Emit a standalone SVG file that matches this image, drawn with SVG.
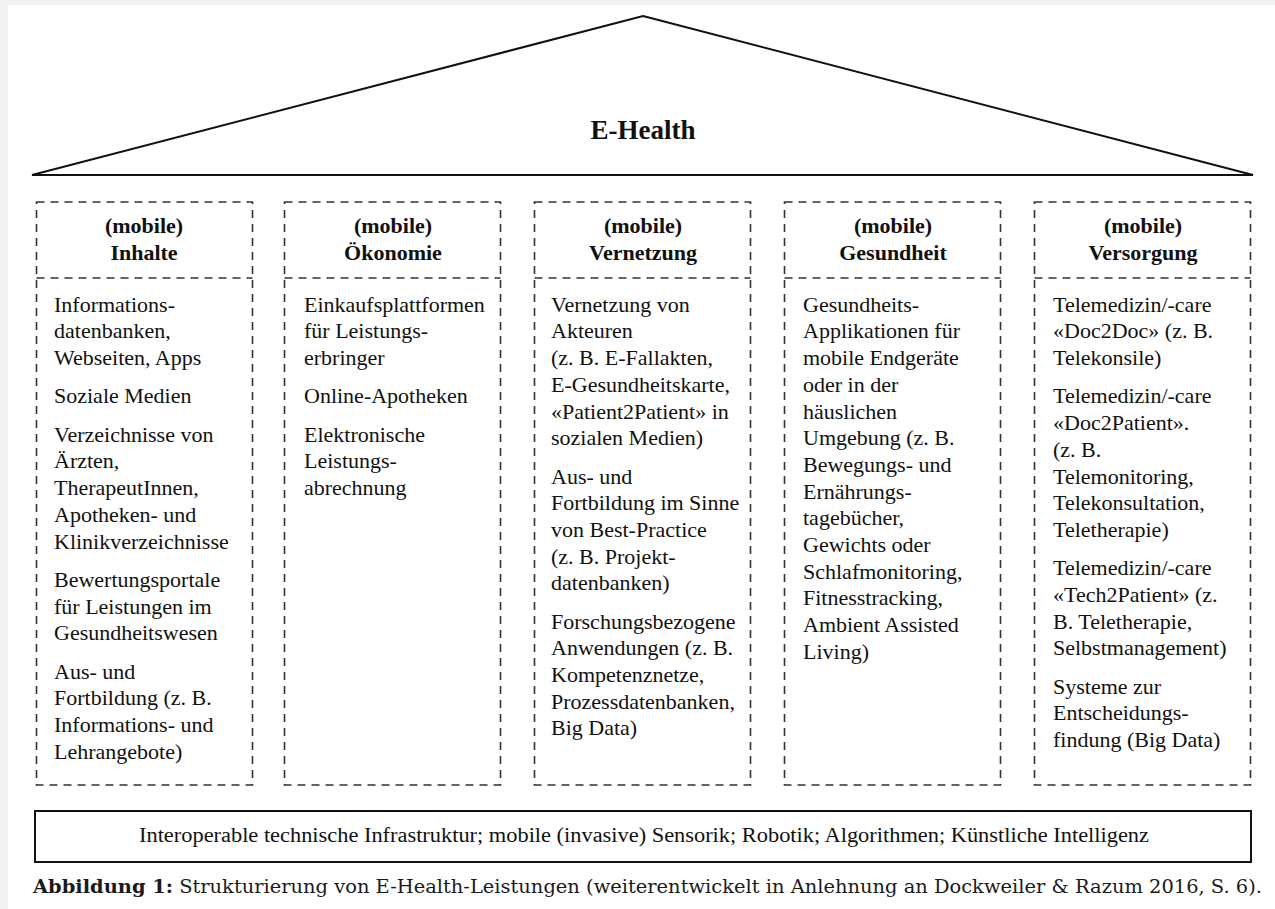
<svg xmlns="http://www.w3.org/2000/svg" width="1275" height="909" viewBox="0 0 1275 909">
<style>
.bg{fill:#f2f2f2}
.page{fill:#ffffff}
.roof{fill:none;stroke:#111;stroke-width:2;stroke-linejoin:miter}
.col{fill:none;stroke:#333;stroke-width:1.6;stroke-dasharray:8,6}
.hd{font-family:"Liberation Serif","Times New Roman",serif;font-size:22px;font-weight:bold;fill:#111;text-anchor:middle}
.tx{font-family:"Liberation Serif","Times New Roman",serif;font-size:22px;fill:#111}
.title{font-family:"Liberation Serif","Times New Roman",serif;font-size:27px;font-weight:bold;fill:#111;text-anchor:middle}
.base{fill:none;stroke:#111;stroke-width:2}
.bt{font-family:"Liberation Serif","Times New Roman",serif;font-size:20px;fill:#111}
.cap{font-family:"DejaVu Serif",serif;font-size:18.5px;fill:#1a1a1a}
</style>
<rect class="bg" x="0" y="0" width="1275" height="909"/>
<rect class="page" x="8" y="5" width="1267" height="904"/>

<g id="roof">
<polygon class="roof" points="643,16 1253,175 32,175"/>
<text class="title" x="643" y="139">E-Health</text>
</g>

<g id="col-inhalte">
<rect class="col" x="36.5" y="202" width="216" height="583"/>
<line class="col" x1="36.5" y1="278" x2="252.5" y2="278"/>
<text class="hd" x="144" y="233">(mobile)</text>
<text class="hd" x="144" y="260">Inhalte</text>
<text class="tx">
<tspan x="54" y="311.7">Informations-</tspan>
<tspan x="54" y="338.4">datenbanken,</tspan>
<tspan x="54" y="365.1">Webseiten, Apps</tspan>
<tspan x="54" y="403.4">Soziale Medien</tspan>
<tspan x="54" y="441.7">Verzeichnisse von</tspan>
<tspan x="54" y="468.4">Ärzten,</tspan>
<tspan x="54" y="495.1">TherapeutInnen,</tspan>
<tspan x="54" y="521.8">Apotheken- und</tspan>
<tspan x="54" y="548.5">Klinikverzeichnisse</tspan>
<tspan x="54" y="586.8">Bewertungsportale</tspan>
<tspan x="54" y="613.5">für Leistungen im</tspan>
<tspan x="54" y="640.2">Gesundheitswesen</tspan>
<tspan x="54" y="678.5">Aus- und</tspan>
<tspan x="54" y="705.2">Fortbildung (z. B.</tspan>
<tspan x="54" y="731.9">Informations- und</tspan>
<tspan x="54" y="758.6">Lehrangebote)</tspan>
</text>
</g>

<g id="col-oekonomie">
<rect class="col" x="284.5" y="202" width="216" height="583"/>
<line class="col" x1="284.5" y1="278" x2="500.5" y2="278"/>
<text class="hd" x="393" y="233">(mobile)</text>
<text class="hd" x="393" y="260">Ökonomie</text>
<text class="tx">
<tspan x="304" y="311.7">Einkaufsplattformen</tspan>
<tspan x="304" y="338.4">für Leistungs-</tspan>
<tspan x="304" y="365.1">erbringer</tspan>
<tspan x="304" y="403.4">Online-Apotheken</tspan>
<tspan x="304" y="441.7">Elektronische</tspan>
<tspan x="304" y="468.4">Leistungs-</tspan>
<tspan x="304" y="495.1">abrechnung</tspan>
</text>
</g>

<g id="col-vernetzung">
<rect class="col" x="534.5" y="202" width="216" height="583"/>
<line class="col" x1="534.5" y1="278" x2="750.5" y2="278"/>
<text class="hd" x="643" y="233">(mobile)</text>
<text class="hd" x="643" y="260">Vernetzung</text>
<text class="tx">
<tspan x="551" y="311.7">Vernetzung von</tspan>
<tspan x="551" y="338.4">Akteuren</tspan>
<tspan x="551" y="365.1">(z. B. E-Fallakten,</tspan>
<tspan x="551" y="391.8">E-Gesundheitskarte,</tspan>
<tspan x="551" y="418.5">«Patient2Patient» in</tspan>
<tspan x="551" y="445.2">sozialen Medien)</tspan>
<tspan x="551" y="483.5">Aus- und</tspan>
<tspan x="551" y="510.2">Fortbildung im Sinne</tspan>
<tspan x="551" y="536.9">von Best-Practice</tspan>
<tspan x="551" y="563.6">(z. B. Projekt-</tspan>
<tspan x="551" y="590.3">datenbanken)</tspan>
<tspan x="551" y="628.6">Forschungsbezogene</tspan>
<tspan x="551" y="655.3">Anwendungen (z. B.</tspan>
<tspan x="551" y="682">Kompetenznetze,</tspan>
<tspan x="551" y="708.7">Prozessdatenbanken,</tspan>
<tspan x="551" y="735.4">Big Data)</tspan>
</text>
</g>

<g id="col-gesundheit">
<rect class="col" x="784.5" y="202" width="216" height="583"/>
<line class="col" x1="784.5" y1="278" x2="1000.5" y2="278"/>
<text class="hd" x="893" y="233">(mobile)</text>
<text class="hd" x="893" y="260">Gesundheit</text>
<text class="tx">
<tspan x="803" y="311.7">Gesundheits-</tspan>
<tspan x="803" y="338.4">Applikationen für</tspan>
<tspan x="803" y="365.1">mobile Endgeräte</tspan>
<tspan x="803" y="391.8">oder in der</tspan>
<tspan x="803" y="418.5">häuslichen</tspan>
<tspan x="803" y="445.2">Umgebung (z. B.</tspan>
<tspan x="803" y="471.9">Bewegungs- und</tspan>
<tspan x="803" y="498.6">Ernährungs-</tspan>
<tspan x="803" y="525.3">tagebücher,</tspan>
<tspan x="803" y="552">Gewichts oder</tspan>
<tspan x="803" y="578.7">Schlafmonitoring,</tspan>
<tspan x="803" y="605.4">Fitnesstracking,</tspan>
<tspan x="803" y="632.1">Ambient Assisted</tspan>
<tspan x="803" y="658.8">Living)</tspan>
</text>
</g>

<g id="col-versorgung">
<rect class="col" x="1034.5" y="202" width="216" height="583"/>
<line class="col" x1="1034.5" y1="278" x2="1250.5" y2="278"/>
<text class="hd" x="1143" y="233">(mobile)</text>
<text class="hd" x="1143" y="260">Versorgung</text>
<text class="tx">
<tspan x="1053" y="311.7">Telemedizin/-care</tspan>
<tspan x="1053" y="338.4">«Doc2Doc» (z. B.</tspan>
<tspan x="1053" y="365.1">Telekonsile)</tspan>
<tspan x="1053" y="403.4">Telemedizin/-care</tspan>
<tspan x="1053" y="430.1">«Doc2Patient».</tspan>
<tspan x="1053" y="456.8">(z. B.</tspan>
<tspan x="1053" y="483.5">Telemonitoring,</tspan>
<tspan x="1053" y="510.2">Telekonsultation,</tspan>
<tspan x="1053" y="536.9">Teletherapie)</tspan>
<tspan x="1053" y="575.2">Telemedizin/-care</tspan>
<tspan x="1053" y="601.9">«Tech2Patient» (z.</tspan>
<tspan x="1053" y="628.6">B. Teletherapie,</tspan>
<tspan x="1053" y="655.3">Selbstmanagement)</tspan>
<tspan x="1053" y="693.6">Systeme zur</tspan>
<tspan x="1053" y="720.3">Entscheidungs-</tspan>
<tspan x="1053" y="747">findung (Big Data)</tspan>
</text>
</g>

<g id="infrastruktur">
<rect class="base" x="35" y="811" width="1216" height="51"/>
<text class="bt" x="139" y="842" textLength="1010" lengthAdjust="spacingAndGlyphs">Interoperable technische Infrastruktur; mobile (invasive) Sensorik; Robotik; Algorithmen; Künstliche Intelligenz</text>
</g>

<g id="connectors"></g>

<g id="caption">
<text class="cap" x="33" y="893" textLength="1229" lengthAdjust="spacingAndGlyphs"><tspan font-weight="bold">Abbildung 1:</tspan> Strukturierung von E-Health-Leistungen (weiterentwickelt in Anlehnung an Dockweiler &amp; Razum 2016, S. 6).</text>
</g>
</svg>
